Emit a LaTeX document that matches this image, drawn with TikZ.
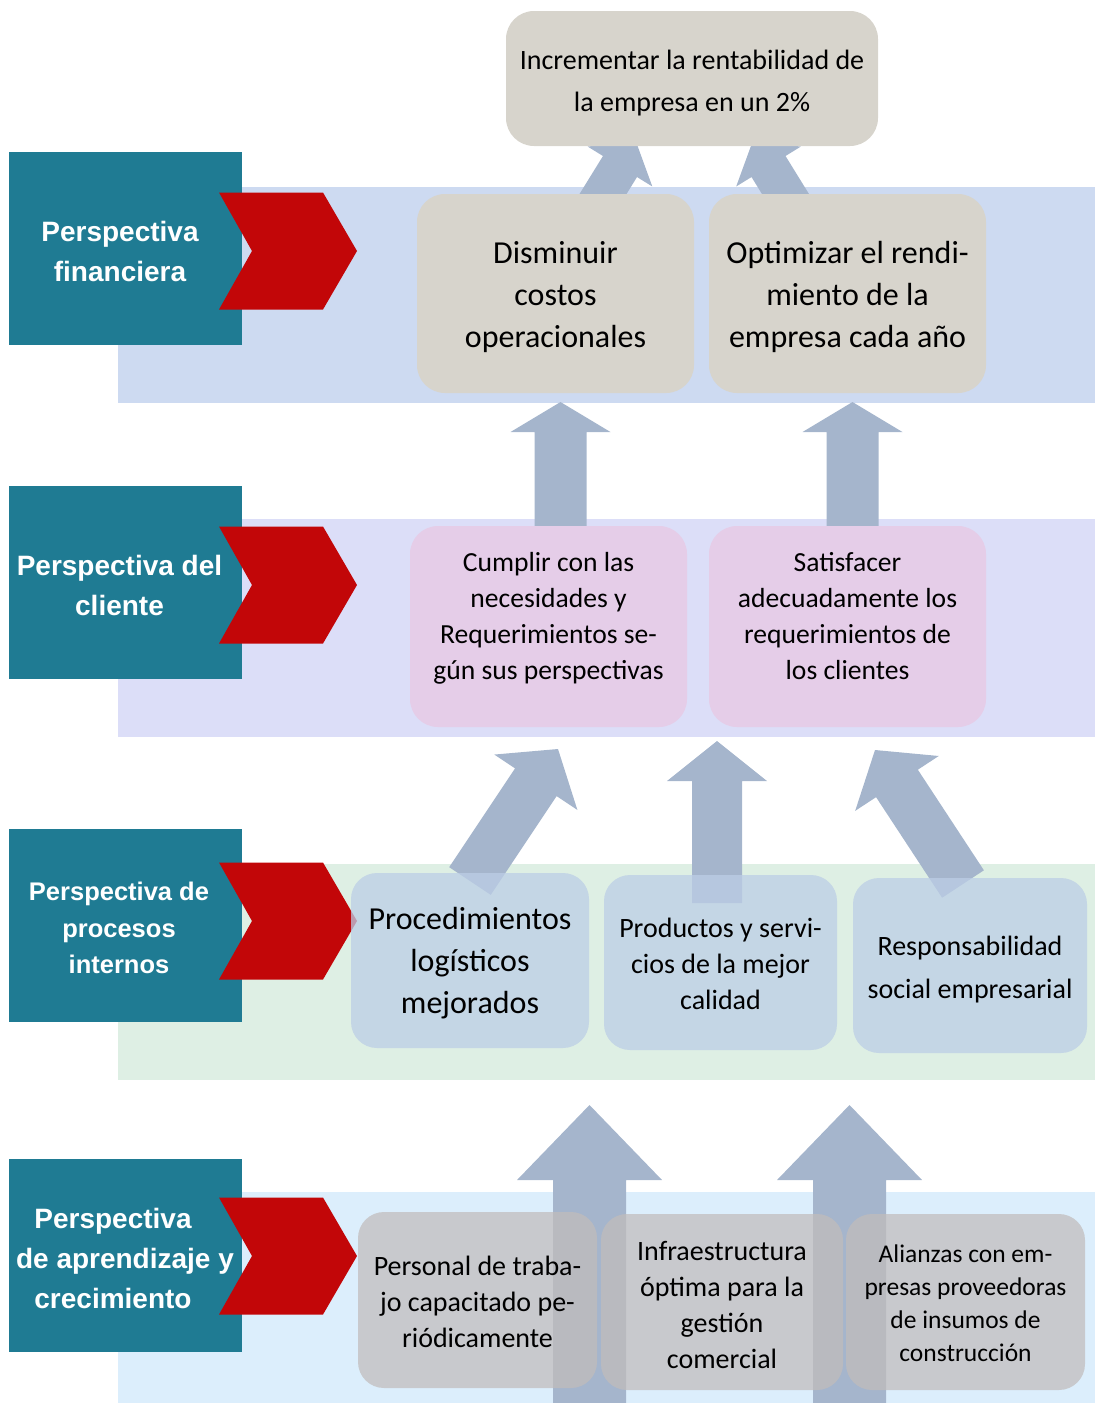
\documentclass[tikz,border=0pt]{standalone}
\usepackage{fontspec}
\setmainfont{Carlito}
\newfontfamily\labelfont{Liberation Sans}
\usetikzlibrary{calc}

\definecolor{bandA}{HTML}{CDDAF1}
\definecolor{bandB}{HTML}{DCDEF8}
\definecolor{bandC}{HTML}{DEEFE4}
\definecolor{bandD}{HTML}{DCEEFC}
\definecolor{perspfill}{HTML}{1F7B93}
\definecolor{chevfill}{HTML}{C20608}
\definecolor{finfill}{HTML}{D7D4CC}
\definecolor{pinkfill}{HTML}{E5CDE8}
\definecolor{procfill}{HTML}{BCCEE6}
\definecolor{learnfill}{HTML}{C1BCBB}
\definecolor{arrowfill}{HTML}{A5B5CC}

\tikzset{
  persp/.style={fill=perspfill, minimum width=233pt, minimum height=193pt,
    inner sep=0pt},
  persptext/.style={inner sep=0pt, text=white, align=center,
    font=\labelfont\bfseries\fontsize{28}{40}\selectfont},
  box/.style={rounded corners=28pt, inner sep=0pt},
  boxtext/.style={inner sep=0pt, align=center, text=black,
    font=\fontsize{28}{36}\selectfont},
  finbox/.style={box, fill=finfill, minimum width=277pt, minimum height=199pt},
  pinkbox/.style={box, fill=pinkfill, minimum width=277pt, minimum height=201pt},
  procbox/.style={box, rounded corners=26pt, fill=procfill, fill opacity=0.75,
    minimum height=175pt},
  learnbox/.style={box, rounded corners=26pt, fill=learnfill, fill opacity=0.72,
    minimum height=176pt},
}

% block arrow: tail, tip, shaft half width, head half width, head length
\newcommand{\blockarrow}[5]{%
  \coordinate (bac) at ($(#2)!#5!(#1)$);
  \fill[arrowfill] ($(#1)!#3!90:(#2)$) -- ($(bac)!#3!90:(#2)$)
    -- ($(bac)!#4!90:(#2)$) -- (#2) -- ($(bac)!#4!-90:(#2)$)
    -- ($(bac)!#3!-90:(#2)$) -- ($(#1)!#3!-90:(#2)$) -- cycle;
}

% red chevron centred vertically on #1
\newcommand{\chevronat}[1]{%
  \begin{scope}[shift={(0,#1)}]
    \fill[chevfill] (219,-58.5) -- (323,-58.5) -- (357,0) -- (323,58.5)
      -- (219,58.5) -- (252,0) -- cycle;
  \end{scope}
}

\begin{document}
\begin{tikzpicture}[x=1pt,y=-1pt]
\useasboundingbox (0,0) rectangle (1095,1403);

% horizontal bands
\fill[bandA] (118,187) rectangle (1095,403);
\fill[bandB] (118,519) rectangle (1095,737);
\fill[bandC] (118,864) rectangle (1095,1080);
\fill[bandD] (118,1192) rectangle (1095,1403);

% perspective labels
\node[persp] (pfin) at (125.5,248.5) {};
\node[persp] (pcli) at (125.5,582.5) {};
\node[persp] (ppro) at (125.5,925.5) {};
\node[persp] (papr) at (125.5,1255.5) {};
\node[persptext] (pfint) at (120,251) {Perspectiva\\financiera};
\node[persptext] (pclit) at (119.5,585) {Perspectiva del\\cliente};
\node[persptext, font=\labelfont\bfseries\fontsize{25.5}{36.5}\selectfont]
  (pprot) at (119,928) {Perspectiva de\\procesos\\internos};
\node[persptext] (paprt) at (125,1258)
  {Perspectiva\hspace*{24pt}\\de aprendizaje y\\crecimiento\hspace*{24pt}};

% chevrons
\chevronat{251}
\chevronat{585}
\chevronat{921}
\chevronat{1256}

% arrow end points
\coordinate (a1s) at (557,268.5);   \coordinate (a1e) at (635.75,141);
\coordinate (a2s) at (831.5,268.5); \coordinate (a2e) at (752.75,141);
\coordinate (b1s) at (560.5,530);   \coordinate (b1e) at (560.5,402);
\coordinate (b2s) at (852.5,530);   \coordinate (b2e) at (852.5,402);
\coordinate (c1s) at (470,881);     \coordinate (c1e) at (558,749);
\coordinate (c2s) at (717,903);     \coordinate (c2e) at (717,741);
\coordinate (c3s) at (963,884);     \coordinate (c3e) at (875,750);
\coordinate (d1s) at (589.5,1403);  \coordinate (d1e) at (589.5,1105);
\coordinate (d2s) at (849.5,1403);  \coordinate (d2e) at (849.5,1105);

% block arrows
\blockarrow{a1s}{a1e}{20pt}{38pt}{30pt}
\blockarrow{a2s}{a2e}{20pt}{38pt}{30pt}
\blockarrow{b1s}{b1e}{26pt}{50pt}{30pt}
\blockarrow{b2s}{b2e}{26pt}{50pt}{30pt}
\blockarrow{c1s}{c1e}{25pt}{50pt}{40pt}
\blockarrow{c2s}{c2e}{25pt}{50pt}{40pt}
\blockarrow{c3s}{c3e}{25pt}{50pt}{40pt}
\blockarrow{d1s}{d1e}{36.5pt}{72.5pt}{75pt}
\blockarrow{d2s}{d2e}{36.5pt}{72.5pt}{75pt}

% objective boxes
\node[box, fill=finfill, minimum width=372pt, minimum height=135pt]
  (inc) at (692,78.5) {};
\node[boxtext, font=\fontsize{28}{42}\selectfont] (inct) at (692,83.5)
  {Incrementar la rentabilidad de\\la empresa en un 2\%};

\node[finbox] (dis) at (555.5,293.5) {};
\node[finbox] (opt) at (847.5,293.5) {};
\node[boxtext, font=\fontsize{32}{42}\selectfont] (dist) at (555.5,297.5)
  {Disminuir\\costos\\operacionales};
\node[boxtext, font=\fontsize{32}{42}\selectfont] (optt) at (847.5,297)
  {Optimizar el rendi-\\miento de la\\empresa cada año};

\node[pinkbox] (cum) at (548.5,626.5) {};
\node[pinkbox] (sat) at (847.5,626.5) {};
\node[boxtext, font=\fontsize{27.6}{36}\selectfont] (cumt) at (548.5,618.5)
  {Cumplir con las\\necesidades y\\Requerimientos se-\\gún sus perspectivas};
\node[boxtext, font=\fontsize{27.6}{36}\selectfont] (satt) at (847.5,616.5)
  {Satisfacer\\adecuadamente los\\requerimientos de\\los clientes};

\node[procbox, minimum width=238pt] (proc) at (470,960.5) {};
\node[procbox, minimum width=233pt] (prod) at (720.5,962.5) {};
\node[procbox, minimum width=234pt] (resp) at (970,965.5) {};
\node[boxtext, font=\fontsize{32}{42}\selectfont] (proct) at (470,963.5)
  {Procedimientos\\logísticos\\mejorados};
\node[boxtext] (prodt) at (720.5,963.5)
  {Productos y servi-\\cios de la mejor\\calidad};
\node[boxtext, font=\fontsize{28}{43}\selectfont] (respt) at (970,969.5)
  {Responsabilidad\\social empresarial};

\node[learnbox, minimum width=239pt] (pers) at (477.5,1300) {};
\node[learnbox, minimum width=242pt] (infra) at (722,1302) {};
\node[learnbox, minimum width=239pt] (ali) at (965.5,1302) {};
\node[boxtext] (perst) at (477.5,1302)
  {Personal de traba-\\jo capacitado pe-\\riódicamente};
\node[boxtext] (infrat) at (722,1304.5)
  {Infraestructura\\óptima para la\\gestión\\comercial};
\node[boxtext, font=\fontsize{25.5}{33}\selectfont] (alit) at (965.5,1303)
  {Alianzas con em-\\presas proveedoras\\de insumos de\\construcción};
\end{tikzpicture}
\end{document}
